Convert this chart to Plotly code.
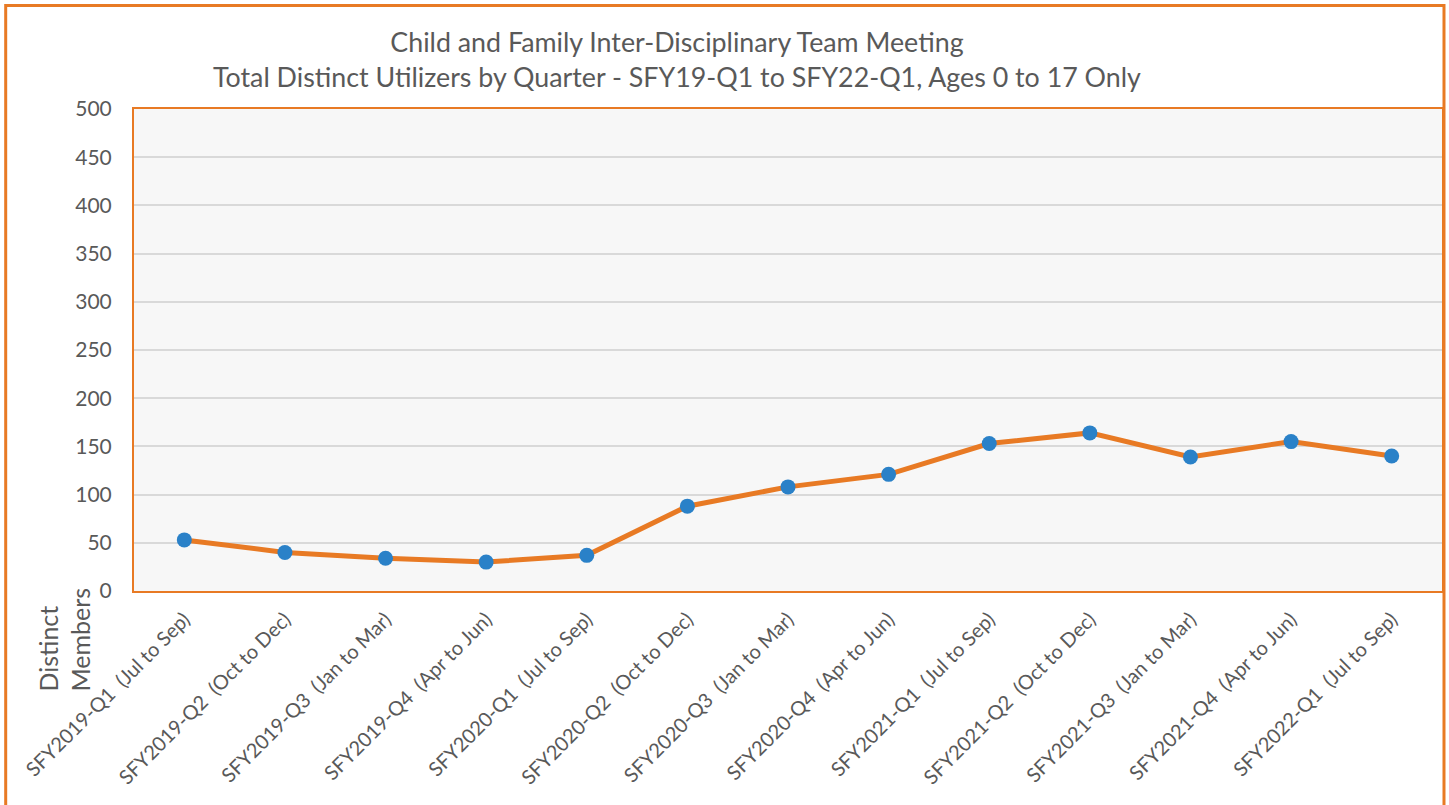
import plotly.graph_objects as go

categories = [
    "SFY2019-Q1 \u00a0(Jul to Sep)", "SFY2019-Q2 \u00a0(Oct to Dec)", "SFY2019-Q3 \u00a0(Jan to Mar)",
    "SFY2019-Q4 \u00a0(Apr to Jun)", "SFY2020-Q1 \u00a0(Jul to Sep)", "SFY2020-Q2 \u00a0(Oct to Dec)",
    "SFY2020-Q3 \u00a0(Jan to Mar)", "SFY2020-Q4 \u00a0(Apr to Jun)", "SFY2021-Q1 \u00a0(Jul to Sep)",
    "SFY2021-Q2 \u00a0(Oct to Dec)", "SFY2021-Q3 \u00a0(Jan to Mar)", "SFY2021-Q4 \u00a0(Apr to Jun)",
    "SFY2022-Q1 \u00a0(Jul to Sep)",
]
distinct_members = [53, 40, 34, 30, 37, 88, 108, 121, 153, 164, 139, 155, 140]
y_ticks = [0, 50, 100, 150, 200, 250, 300, 350, 400, 450, 500]
title_text = ("Child and Family Inter-Disciplinary Team Meeting<br>"
              "Total Distinct Utilizers by Quarter - SFY19-Q1 to SFY22-Q1, Ages 0 to 17 Only")

W, H = 1449, 805
L, R, T, B = 134, 1444, 109, 591
ORANGE = "#E87A24"
BLUE = "#2A81C8"
GRAY = "#595959"
FONT = "Lato"

fig = go.Figure()
fig.add_trace(go.Scatter(
    x=categories, y=distinct_members, mode="lines+markers",
    line=dict(color=ORANGE, width=5),
    marker=dict(color=BLUE, size=15),
    showlegend=False,
))

def px_x(p):
    return (p - L) / (R - L)

def px_y(p):
    return (B - p) / (B - T)

fig.update_layout(
    width=W, height=H,
    margin=dict(l=L, r=W - R, t=T, b=H - B, pad=0),
    paper_bgcolor="white",
    plot_bgcolor="#F7F7F7",
    font=dict(family=FONT, color=GRAY),
    xaxis=dict(
        type="category",
        tickangle=-45,
        tickfont=dict(family=FONT, size=20, color=GRAY),
        showgrid=False,
        showline=True, linecolor=ORANGE, linewidth=2, mirror=True,
        ticks="", ticklabelstandoff=7,
        range=[-0.5, len(categories) - 0.5],
    ),
    yaxis=dict(
        range=[0, 500],
        tickvals=y_ticks,
        tickfont=dict(family=FONT, size=21, color=GRAY),
        showgrid=True, gridcolor="#D9D9D9", gridwidth=1.5,
        zeroline=False,
        showline=True, linecolor=ORANGE, linewidth=2, mirror=True,
        ticks="", ticklabelstandoff=16,
    ),
    annotations=[
        dict(
            text=title_text,
            xref="paper", yref="paper",
            x=px_x(678), y=px_y(59.5),
            xanchor="center", yanchor="middle", align="center",
            showarrow=False,
            font=dict(family=FONT, size=26.8, color=GRAY),
        ),
        dict(
            text="Distinct<br>Members",
            textangle=-90,
            xref="paper", yref="paper",
            x=px_x(63.5), y=px_y(640),
            xanchor="center", yanchor="middle",
            align="left",
            showarrow=False,
            font=dict(family=FONT, size=25, color=GRAY),
        ),
    ],
    shapes=[dict(
        type="rect", xref="paper", yref="paper",
        x0=px_x(5.5), x1=px_x(1446), y0=px_y(812), y1=px_y(5.5),
        line=dict(color=ORANGE, width=3), fillcolor="rgba(0,0,0,0)",
        layer="above",
    )],
)

fig.write_html(
    "out.html",
    config={"displayModeBar": False},
    post_script="document.body.style.margin='0';document.body.style.overflow='hidden';",
)
